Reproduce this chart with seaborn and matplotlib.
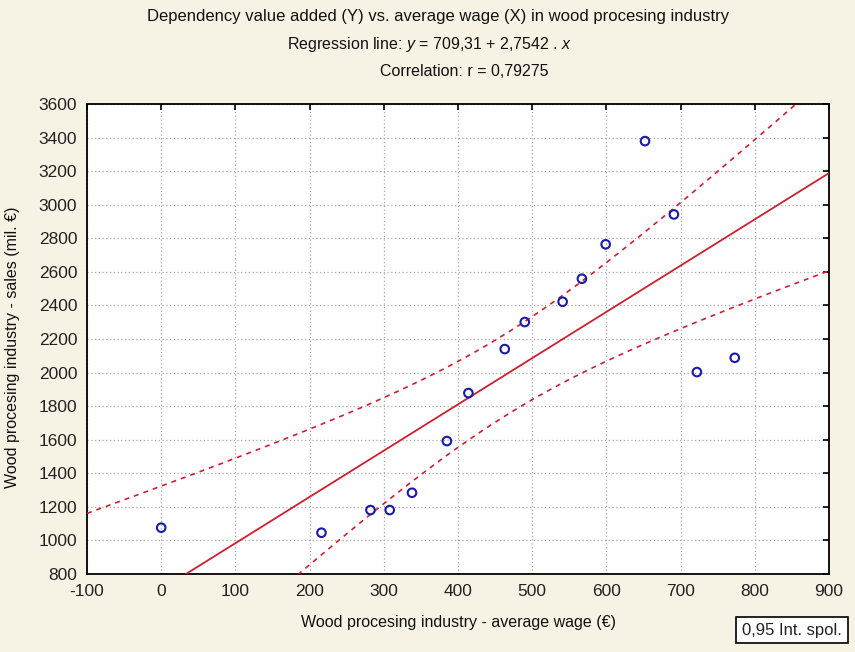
import numpy as np
import pandas as pd
import matplotlib
matplotlib.use("Agg")
import matplotlib.pyplot as plt
import seaborn as sns

# ---- data ----
wage = [0, 216, 282, 308, 338, 385, 414, 463, 490, 541, 567, 599, 652, 691, 722, 773]
sales = [1076, 1046, 1181, 1181, 1284, 1592, 1878, 2140, 2301, 2422, 2559, 2764, 3379, 2942, 2003, 2088]
x_ticks = list(range(-100, 901, 100))
y_ticks = list(range(800, 3601, 200))
title_lines = [
    "Dependency value added (Y) vs. average wage (X) in wood procesing industry",
    "Regression line: $y$ = 709,31 + 2,7542 . $x$",
    "Correlation: r = 0,79275",
]
x_label = "Wood procesing industry - average wage (\u20ac)"
y_label = "Wood procesing industry - sales (mil. \u20ac)"
legend_text = "0,95 Int. spol."
t_975 = 2.1448  # Student t, 14 d.f.

sns.set_theme(style="white")
plt.rcParams["font.family"] = ["Liberation Sans", "DejaVu Sans"]
plt.rcParams["axes.unicode_minus"] = False
plt.rcParams["mathtext.fontset"] = "custom"
plt.rcParams["mathtext.it"] = "Liberation Sans:italic"
plt.rcParams["mathtext.rm"] = "Liberation Sans"

df = pd.DataFrame({"wage": wage, "sales": sales})

# regression + 95% confidence band of the mean
xa = np.asarray(wage, float)
ya = np.asarray(sales, float)
b1, b0 = np.polyfit(xa, ya, 1)
n = len(xa)
res = ya - (b0 + b1 * xa)
s = np.sqrt(np.sum(res ** 2) / (n - 2))
sxx = np.sum((xa - xa.mean()) ** 2)
xg = np.linspace(-100, 900, 300)
yg = b0 + b1 * xg
half = t_975 * s * np.sqrt(1.0 / n + (xg - xa.mean()) ** 2 / sxx)
band = pd.DataFrame({"x": xg, "fit": yg, "lo": yg - half, "hi": yg + half})

fig = plt.figure(figsize=(8.55, 6.52), dpi=100)
fig.patch.set_facecolor("#f7f3e4")
ax = fig.add_axes([87 / 855, 1 - 574 / 652, (829 - 87) / 855, (574 - 104) / 652])
ax.set_facecolor("white")

red = "#cc2030"
sns.lineplot(data=band, x="x", y="fit", ax=ax, color=red, lw=1.3, zorder=3)
sns.lineplot(data=band, x="x", y="hi", ax=ax, color=red, lw=1.2, ls=(0, (3, 3)), zorder=3)
sns.lineplot(data=band, x="x", y="lo", ax=ax, color=red, lw=1.2, ls=(0, (3, 3)), zorder=3)
sns.scatterplot(data=df, x="wage", y="sales", ax=ax, marker="o", s=38,
                facecolor="none", edgecolor="#1a1aa8", linewidth=1.5, zorder=4)

ax.set_xlim(-100, 900)
ax.set_ylim(800, 3600)
ax.set_xticks(x_ticks)
ax.set_yticks(y_ticks)
ax.grid(True, color="#a8a8a8", ls=(0, (1, 2)), lw=0.9)
ax.set_axisbelow(True)
for sp in ax.spines.values():
    sp.set_color("black")
    sp.set_linewidth(1.3)
ax.tick_params(direction="in", length=4, width=1.2, colors="black",
               labelsize=12.5, top=True, right=True, pad=7)
for lab in ax.get_xticklabels() + ax.get_yticklabels():
    lab.set_color("#222222")
ax.set_xlabel("")
ax.set_ylabel("")

fig.text(458 / 855, 1 - 623 / 652, x_label, ha="center", va="center", fontsize=11.5, color="#111111")
fig.text(13 / 855, 1 - 347 / 652, y_label, ha="center", va="center", rotation=90,
         fontsize=11.5, color="#111111")

fig.text(438 / 855, 1 - 17 / 652, title_lines[0], ha="center", va="center", fontsize=12, color="#111111")
fig.text(287 / 855, 1 - 45 / 652, title_lines[1], ha="left", va="center", fontsize=11.5, color="#111111")
fig.text(380 / 855, 1 - 72 / 652, title_lines[2], ha="left", va="center", fontsize=11.5, color="#111111")

fig.text(792 / 855, 1 - 630 / 652, legend_text, ha="center", va="center", fontsize=12, color="#222222",
         bbox=dict(boxstyle="square,pad=0.35", facecolor="white", edgecolor="black", lw=1.2))

fig.savefig("out.png", dpi=100, facecolor=fig.get_facecolor())
